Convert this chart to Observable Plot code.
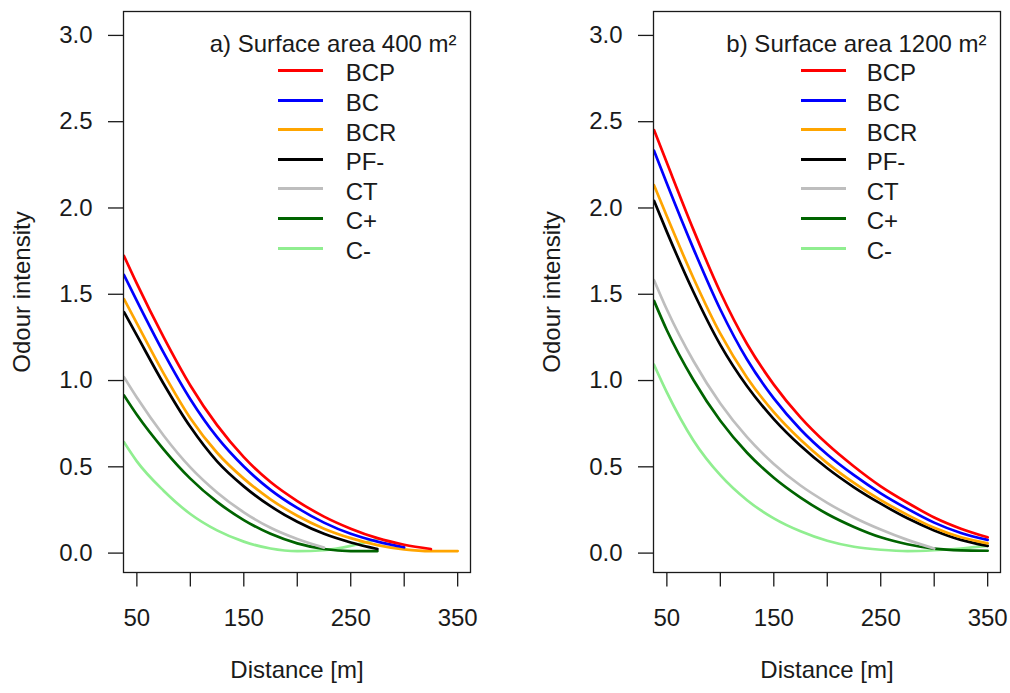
<!DOCTYPE html>
<html>
<head>
<meta charset="utf-8">
<script src="https://cdn.jsdelivr.net/npm/d3@7"></script>
<script src="https://cdn.jsdelivr.net/npm/@observablehq/plot@0.6"></script>
<style>
  body { margin: 0; background: #fff; font-family: "Liberation Sans", Arial, sans-serif; }
  #wrap { position: relative; width: 1010px; height: 693px; overflow: hidden; }
  .panel { position: absolute; top: 0; }
  .leg { position: absolute; font-size: 24px; color: #1a1a1a; line-height: 24px; white-space: nowrap; }
  .sw { position: absolute; height: 3px; }
</style>
</head>
<body>
<div id="wrap"></div>
<script>
// ---- data ----
const series = ["BCP", "BC", "BCR", "PF-", "CT", "C+", "C-"];
const colors = ["#FF0000", "#0000FF", "#FFA500", "#000000", "#BEBEBE", "#006400", "#90EE90"];
const distance = [38, 50, 75, 100, 125, 150, 175, 200, 225, 250, 275, 300, 325, 350];

// a) Surface area 400 m²
const bcpA = [1.71, 1.55, 1.24, 0.96, 0.73, 0.545, 0.40, 0.29, 0.20, 0.13, 0.075, 0.037, 0.012, null];
const bcA  = [1.60, 1.45, 1.15, 0.88, 0.66, 0.49, 0.355, 0.25, 0.165, 0.10, 0.055, 0.022, null, null];
const bcrA = [1.46, 1.32, 1.03, 0.77, 0.57, 0.42, 0.30, 0.205, 0.13, 0.075, 0.035, 0.01, 0, 0];
const pfA  = [1.385, 1.25, 0.97, 0.72, 0.52, 0.375, 0.26, 0.17, 0.10, 0.05, 0.012, null, null, null];
const ctA  = [1.008, 0.89, 0.67, 0.485, 0.34, 0.225, 0.135, 0.07, 0.02, null, null, null, null, null];
const cpA  = [0.902, 0.79, 0.59, 0.42, 0.285, 0.18, 0.10, 0.045, 0.012, 0, 0, null, null, null];
const cmA  = [0.631, 0.52, 0.35, 0.215, 0.12, 0.055, 0.015, 0, 0.005, 0.03, 0.07, null, null, null];

// b) Surface area 1200 m²
const bcpB = [2.44, 2.25, 1.86, 1.50, 1.20, 0.965, 0.775, 0.62, 0.49, 0.375, 0.28, 0.195, 0.13, 0.08];
const bcB  = [2.32, 2.13, 1.75, 1.40, 1.11, 0.885, 0.705, 0.56, 0.44, 0.335, 0.245, 0.165, 0.105, 0.065];
const bcrB = [2.12, 1.94, 1.58, 1.26, 1.005, 0.805, 0.645, 0.51, 0.395, 0.295, 0.21, 0.135, 0.08, 0.045];
const pfB  = [2.03, 1.85, 1.50, 1.195, 0.955, 0.765, 0.61, 0.48, 0.37, 0.275, 0.19, 0.12, 0.065, 0.03];
const ctB  = [1.57, 1.40, 1.10, 0.855, 0.66, 0.505, 0.38, 0.28, 0.195, 0.125, 0.065, 0.015, null, null];
const cpB  = [1.45, 1.28, 0.99, 0.755, 0.57, 0.425, 0.31, 0.215, 0.14, 0.08, 0.04, 0.014, 0.004, 0.002];
const cmB  = [1.08, 0.92, 0.64, 0.44, 0.295, 0.19, 0.115, 0.06, 0.025, 0.008, 0, 0.005, 0.015, 0.03];

const yTicks = [0, 0.5, 1, 1.5, 2, 2.5, 3];
const xTicks = [50, 100, 150, 200, 250, 300, 350];
const xLabels = [50, 150, 250, 350];
const titles = ["a) Surface area 400 m²", "b) Surface area 1200 m²"];
const xTitle = "Distance [m]";
const yTitle = "Odour intensity";

// ---- drawing ----
const ink = "#1a1a1a";
function buildPanel(values, title, left, marginLeft, marginRight, legendSwatchX, legendTextX) {
  const rows = [];
  series.forEach((s, i) => values[i].forEach((v, j) => {
    if (v != null) rows.push({series: s, d: distance[j], v});
  }));
  const lineMarks = series.slice().reverse().map(s =>
    Plot.line(rows.filter(r => r.series === s), {
      x: "d", y: "v", stroke: colors[series.indexOf(s)], strokeWidth: 2.7,
      curve: "monotone-x", clip: true
    })
  );
  const chart = Plot.plot({
    width: 505, height: 693,
    marginLeft, marginRight, marginTop: 11, marginBottom: 121,
    x: {domain: [37.5, 362]},
    y: {domain: [-0.124, 3.127]},
    style: {fontFamily: "'Liberation Sans', Arial, sans-serif", fontSize: "24px", color: ink, background: "transparent"},
    marks: [
      Plot.axisY({ticks: yTicks, tickSize: 15, tickPadding: 16, tickFormat: d => d.toFixed(1), label: null, strokeWidth: 1.3, dy: 2}),
      Plot.axisX({ticks: xTicks, tickSize: 14.5, tickFormat: () => "", label: null, strokeWidth: 1.3}),
      Plot.axisX({ticks: xLabels, tickSize: 0, tickPadding: 36, label: null}),
      ...lineMarks,
      Plot.frame({stroke: ink, strokeWidth: 1.3}),
      Plot.text([title], {frameAnchor: "top-right", dx: -14, dy: 23, textAnchor: "end", fill: ink}),
      Plot.text([xTitle], {frameAnchor: "bottom", dy: 105.5, textAnchor: "middle", fill: ink}),
      Plot.text([yTitle], {frameAnchor: "left", dx: -101, rotate: -90, textAnchor: "middle", fill: ink})
    ]
  });
  chart.classList.add("panel");
  chart.style.left = left + "px";
  document.getElementById("wrap").appendChild(chart);

  series.forEach((s, i) => {
    const ly = 70.7 + i * 29.55;
    const sw = document.createElement("div");
    sw.className = "sw";
    sw.style.left = (left + legendSwatchX) + "px";
    sw.style.width = "45px";
    sw.style.top = (ly - 1.5) + "px";
    sw.style.background = colors[i];
    document.getElementById("wrap").appendChild(sw);
    const tx = document.createElement("div");
    tx.className = "leg";
    tx.style.left = (left + legendTextX) + "px";
    tx.style.top = (ly - 9.3) + "px";
    tx.textContent = s;
    document.getElementById("wrap").appendChild(tx);
  });
}

buildPanel([bcpA, bcA, bcrA, pfA, ctA, cpA, cmA], titles[0], 0, 123, 35, 278, 345.7);
buildPanel([bcpB, bcB, bcrB, pfB, ctB, cpB, cmB], titles[1], 505, 148, 10, 295.7, 361.7);
</script>
</body>
</html>
